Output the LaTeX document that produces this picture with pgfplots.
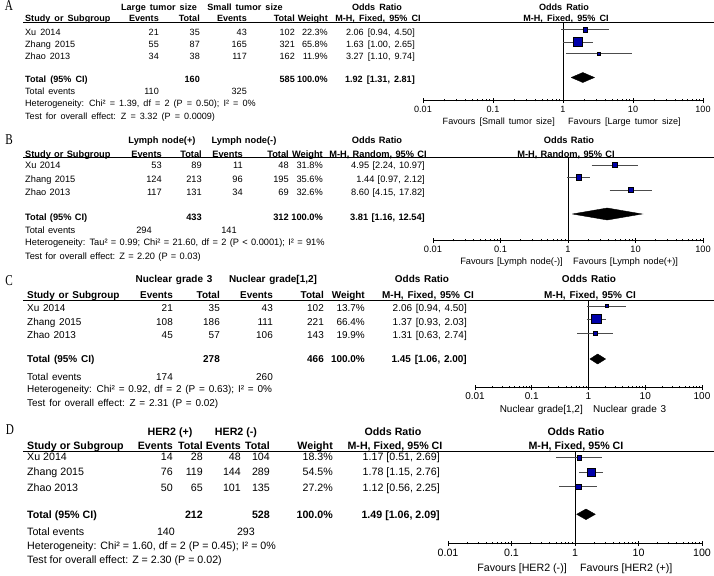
\documentclass[border=0pt]{standalone}
\usepackage{pgfplots}
\pgfplotsset{compat=1.18}
\usepackage{fontspec}
\setmainfont{Liberation Sans}
\newfontfamily\letterfont{Liberation Serif}
\definecolor{sqblue}{RGB}{0,0,170}

% panel fonts; the source image has wide word spaces in A-C
\newcommand\fsA{\fontsize{9.1}{10}\selectfont\spaceskip=4.1bp\relax}
\newcommand\fsB{\fontsize{9.3}{10}\selectfont\spaceskip=3.3bp\relax}
\newcommand\fsC{\fontsize{10}{11}\selectfont\spaceskip=3.8bp\relax}
\newcommand\fsD{\fontsize{10.7}{12}\selectfont}

% one table row, column edges come from \xN ... \xOR of the panel
\newcommand\row[8]{%
  \node[L] at (\xN,#1) {#2};
  \node[R] at (\xEa,#1) {#3};
  \node[R] at (\xTa,#1) {#4};
  \node[R] at (\xEb,#1) {#5};
  \node[R] at (\xTb,#1) {#6};
  \node[R] at (\xW,#1) {#7};
  \node[R] at (\xOR,#1) {#8};}

\begin{document}
\begin{tikzpicture}[
  L/.style={anchor=mid west, inner sep=0pt},
  R/.style={anchor=mid east, inner sep=0pt},
  M/.style={anchor=mid, inner sep=0pt},
  lett/.style={anchor=mid, inner sep=0pt, font=\letterfont\fontsize{15}{15}\selectfont, xscale=0.75, transform shape},
  wh/.style={black!70, line width=0.8bp},
  sq/.style={draw=none, fill=sqblue},
  dia/.style={fill=black, draw=black},
  vline/.style={black, line width=0.75bp}]
\path[use as bounding box] (0,0) rectangle (714bp,-576bp);

%%%%%%%%%%%%%%%% A
\begin{scope}[x=1bp,y=-1bp,font=\fsA]
\def\xN{25}\def\xEa{159}\def\xTa{200}\def\xEb{247}\def\xTb{295}\def\xW{328}\def\xOR{415}
\node[lett] at (9,8) {A};
\node[M] at (159,7.5) {\textbf{Large tumor size}};
\node[M] at (245,7.5) {\textbf{Small tumor size}};
\node[M] at (377,7.5) {\textbf{Odds Ratio}};
\node[M] at (564,7.5) {\textbf{Odds Ratio}};
\row{18.5}{\textbf{Study or Subgroup}}{\textbf{Events}}{\textbf{Total}}{\textbf{Events}}{\textbf{Total}}{\textbf{Weight}}{}
\node[M] at (378,18.5) {\textbf{M-H, Fixed, 95\% CI}};
\node[M] at (566,18.5) {\textbf{M-H, Fixed, 95\% CI}};
\draw[line width=0.8bp] (23,22.7) -- (714,22.7);
\row{32.5}{Xu 2014}{21}{35}{43}{102}{22.3\%}{2.06 [0.94, 4.50]}
\row{45}{Zhang 2015}{55}{87}{165}{321}{65.8\%}{1.63 [1.00, 2.65]}
\row{56.5}{Zhao 2013}{34}{38}{117}{162}{11.9\%}{3.27 [1.10, 9.74]}
\row{79.5}{\textbf{Total (95\% CI)}}{}{\textbf{160}}{}{\textbf{585}}{\textbf{100.0\%}}{\textbf{1.92 [1.31, 2.81]}}
\row{91.7}{Total events}{110}{}{325}{}{}{}
\node[L] at (25,104) {Heterogeneity: Chi² = 1.39, df = 2 (P = 0.50); I² = 0\%};
\node[L] at (25,117) {Test for overall effect: Z = 3.32 (P = 0.0009)};
\node[R] at (555,122) {Favours [Small tumor size]};
\node[L] at (568,122) {Favours [Large tumor size]};
\end{scope}
\begin{axis}[at={(423bp,-100bp)}, anchor=south west, scale only axis,
  width=280bp, height=77bp, clip=false,
  xmode=log, xmin=0.01, xmax=100, ymin=-100, ymax=-23,
  axis x line*=bottom, axis y line=none,
  xtick={0.01,0.1,1,10,100}, xticklabels={0.01,0.1,1,10,100},
  minor xtick={}, tick align=center, major tick length=5bp,
  axis line style={line width=0.75bp}, tick style={line width=0.75bp, black},
  ticklabel style={font=\fsA}]
\addplot[vline] coordinates {(1,-100) (1,-23)};
\addplot[wh] coordinates {(0.94,-29.5) (4.50,-29.5)};
\addplot[wh] coordinates {(1.00,-42) (2.65,-42)};
\addplot[wh] coordinates {(1.10,-53.5) (9.74,-53.5)};
\addplot[only marks, mark=square*, mark options={sq}, mark size=2.2bp] coordinates {(2.06,-29.5)};
\addplot[only marks, mark=square*, mark options={sq}, mark size=4.6bp] coordinates {(1.63,-42)};
\addplot[only marks, mark=square*, mark options={sq}, mark size=1.4bp] coordinates {(3.27,-53.5)};
\addplot[dia] coordinates {(1.31,-77.5) (1.92,-72.5) (2.81,-77.5) (1.92,-82.5) (1.31,-77.5)};
\end{axis}

%%%%%%%%%%%%%%%% B
\begin{scope}[x=1bp,y=-1bp,font=\fsB]
\def\xN{25}\def\xEa{162}\def\xTa{202}\def\xEb{243}\def\xTb{289}\def\xW{323}\def\xOR{425}
\node[lett] at (9,142) {B};
\node[M] at (162,141) {\textbf{Lymph node(+)}};
\node[M] at (244,141) {\textbf{Lymph node(-)}};
\node[M] at (377,141) {\textbf{Odds Ratio}};
\node[M] at (569,141) {\textbf{Odds Ratio}};
\row{154.5}{\textbf{Study or Subgroup}}{\textbf{Events}}{\textbf{Total}}{\textbf{Events}}{\textbf{Total}}{\textbf{Weight}}{}
\node[M] at (378,154.5) {\textbf{M-H, Random, 95\% CI}};
\node[M] at (566,154.5) {\textbf{M-H, Random, 95\% CI}};
\draw[line width=0.8bp] (23,157.5) -- (714,157.5);
\row{166}{Xu 2014}{53}{89}{11}{48}{31.8\%}{4.95 [2.24, 10.97]}
\row{180}{Zhang 2015}{124}{213}{96}{195}{35.6\%}{1.44 [0.97, 2.12]}
\row{192.5}{Zhao 2013}{117}{131}{34}{69}{32.6\%}{8.60 [4.15, 17.82]}
\row{217.5}{\textbf{Total (95\% CI)}}{}{\textbf{433}}{}{\textbf{312}}{\textbf{100.0\%}}{\textbf{3.81 [1.16, 12.54]}}
\node[L] at (25,231) {Total events};
\node[R] at (152,231) {294};
\node[R] at (237,231) {141};
\node[L] at (25,242.5) {Heterogeneity: Tau² = 0.99; Chi² = 21.60, df = 2 (P < 0.0001); I² = 91\%};
\node[L] at (25,256.5) {Test for overall effect: Z = 2.20 (P = 0.03)};
\node[R] at (563,261.5) {Favours [Lymph node(-)]};
\node[L] at (573,261.5) {Favours [Lymph node(+)]};
\end{scope}
\begin{axis}[at={(433bp,-240bp)}, anchor=south west, scale only axis,
  width=270bp, height=83bp, clip=false,
  xmode=log, xmin=0.01, xmax=100, ymin=-240, ymax=-157,
  axis x line*=bottom, axis y line=none,
  xtick={0.01,0.1,1,10,100}, xticklabels={0.01,0.1,1,10,100},
  minor xtick={}, tick align=center, major tick length=5bp,
  axis line style={line width=0.75bp}, tick style={line width=0.75bp, black},
  ticklabel style={font=\fsB}]
\addplot[vline] coordinates {(1,-240) (1,-157)};
\addplot[wh] coordinates {(2.24,-165) (10.97,-165)};
\addplot[wh] coordinates {(0.97,-177) (2.12,-177)};
\addplot[wh] coordinates {(4.15,-190) (17.82,-190)};
\addplot[only marks, mark=square*, mark options={sq}, mark size=2.6bp] coordinates {(4.95,-165)};
\addplot[only marks, mark=square*, mark options={sq}, mark size=2.7bp] coordinates {(1.44,-177)};
\addplot[only marks, mark=square*, mark options={sq}, mark size=2.6bp] coordinates {(8.60,-190)};
\addplot[dia] coordinates {(1.16,-214) (3.81,-208) (12.54,-214) (3.81,-220) (1.16,-214)};
\end{axis}

%%%%%%%%%%%%%%%% C
\begin{scope}[x=1bp,y=-1bp,font=\fsC]
\def\xN{27}\def\xEa{173}\def\xTa{220}\def\xEb{273}\def\xTb{324}\def\xW{365}\def\xOR{467}
\node[lett] at (9,283) {C};
\node[M] at (174,280) {\textbf{Nuclear grade 3}};
\node[M] at (273,280) {\textbf{Nuclear grade[1,2]}};
\node[M] at (422,280) {\textbf{Odds Ratio}};
\node[M] at (589,280) {\textbf{Odds Ratio}};
\row{296}{\textbf{Study or Subgroup}}{\textbf{Events}}{\textbf{Total}}{\textbf{Events}}{\textbf{Total}}{\textbf{Weight}}{}
\node[M] at (428,296) {\textbf{M-H, Fixed, 95\% CI}};
\node[M] at (590,296) {\textbf{M-H, Fixed, 95\% CI}};
\draw[line width=0.8bp] (23,300) -- (714,300);
\row{309}{Xu 2014}{21}{35}{43}{102}{13.7\%}{2.06 [0.94, 4.50]}
\row{322.5}{Zhang 2015}{108}{186}{111}{221}{66.4\%}{1.37 [0.93, 2.03]}
\row{336}{Zhao 2013}{45}{57}{106}{143}{19.9\%}{1.31 [0.63, 2.74]}
\row{360}{\textbf{Total (95\% CI)}}{}{\textbf{278}}{}{\textbf{466}}{\textbf{100.0\%}}{\textbf{1.45 [1.06, 2.00]}}
\row{377.5}{Total events}{174}{}{260}{}{}{}
\node[L] at (27,390) {Heterogeneity: Chi² = 0.92, df = 2 (P = 0.63); I² = 0\%};
\node[L] at (27,404) {Test for overall effect: Z = 2.31 (P = 0.02)};
\node[R] at (583,410) {Nuclear grade[1,2]};
\node[L] at (593,410) {Nuclear grade 3};
\end{scope}
\begin{axis}[at={(475bp,-387bp)}, anchor=south west, scale only axis,
  width=227bp, height=87bp, clip=false,
  xmode=log, xmin=0.01, xmax=100, ymin=-387, ymax=-300,
  axis x line*=bottom, axis y line=none,
  xtick={0.01,0.1,1,10,100}, xticklabels={0.01,0.1,1,10,100},
  minor xtick={}, tick align=center, major tick length=5bp,
  axis line style={line width=0.75bp}, tick style={line width=0.75bp, black},
  ticklabel style={font=\fsC}]
\addplot[vline] coordinates {(1,-387) (1,-300)};
\addplot[wh] coordinates {(0.94,-306) (4.50,-306)};
\addplot[wh] coordinates {(0.93,-319) (2.03,-319)};
\addplot[wh] coordinates {(0.63,-333) (2.74,-333)};
\addplot[only marks, mark=square*, mark options={sq}, mark size=1.6bp] coordinates {(2.06,-306)};
\addplot[only marks, mark=square*, mark options={sq}, mark size=4.6bp] coordinates {(1.37,-319)};
\addplot[only marks, mark=square*, mark options={sq}, mark size=2.0bp] coordinates {(1.31,-333)};
\addplot[dia] coordinates {(1.06,-359) (1.45,-354) (2.00,-359) (1.45,-364) (1.06,-359)};
\end{axis}

%%%%%%%%%%%%%%%% D
\begin{scope}[x=1bp,y=-1bp,font=\fsD]
\def\xN{27}\def\xEa{173}\def\xTa{203}\def\xEb{241}\def\xTb{270}\def\xW{333}\def\xOR{440}
\node[lett] at (10,432) {D};
\node[M] at (170,432.5) {\textbf{HER2 (+)}};
\node[M] at (236,432.5) {\textbf{HER2 (-)}};
\node[M] at (393,432.5) {\textbf{Odds Ratio}};
\node[M] at (576,432.5) {\textbf{Odds Ratio}};
\row{446.5}{\textbf{Study or Subgroup}}{\textbf{Events}}{\textbf{Total}}{\textbf{Events}}{\textbf{Total}}{\textbf{Weight}}{}
\node[M] at (395,446.5) {\textbf{M-H, Fixed, 95\% CI}};
\node[M] at (576,446.5) {\textbf{M-H, Fixed, 95\% CI}};
\draw[line width=0.8bp] (23,451) -- (714,451);
\row{457.5}{Xu 2014}{14}{28}{48}{104}{18.3\%}{1.17 [0.51, 2.69]}
\row{473}{Zhang 2015}{76}{119}{144}{289}{54.5\%}{1.78 [1.15, 2.76]}
\row{489}{Zhao 2013}{50}{65}{101}{135}{27.2\%}{1.12 [0.56, 2.25]}
\row{516}{\textbf{Total (95\% CI)}}{}{\textbf{212}}{}{\textbf{528}}{\textbf{100.0\%}}{\textbf{1.49 [1.06, 2.09]}}
\node[L] at (27,532.5) {Total events};
\node[R] at (175,532.5) {140};
\node[R] at (255,532.5) {293};
\node[L] at (27,547) {Heterogeneity: Chi² = 1.60, df = 2 (P = 0.45); I² = 0\%};
\node[L] at (27,561) {Test for overall effect: Z = 2.30 (P = 0.02)};
\node[R] at (567,569) {Favours [HER2 (-)]};
\node[L] at (580,569) {Favours [HER2 (+)]};
\end{scope}
\begin{axis}[at={(448bp,-543bp)}, anchor=south west, scale only axis,
  width=254bp, height=92bp, clip=false,
  xmode=log, xmin=0.01, xmax=100, ymin=-543, ymax=-451,
  axis x line*=bottom, axis y line=none,
  xtick={0.01,0.1,1,10,100}, xticklabels={0.01,0.1,1,10,100},
  minor xtick={}, tick align=center, major tick length=5bp,
  axis line style={line width=0.75bp}, tick style={line width=0.75bp, black},
  ticklabel style={font=\fsD}]
\addplot[vline] coordinates {(1,-543) (1,-451)};
\addplot[wh] coordinates {(0.51,-457.7) (2.69,-457.7)};
\addplot[wh] coordinates {(1.15,-472.3) (2.76,-472.3)};
\addplot[wh] coordinates {(0.56,-486.7) (2.25,-486.7)};
\addplot[only marks, mark=square*, mark options={sq}, mark size=2.2bp] coordinates {(1.17,-457.7)};
\addplot[only marks, mark=square*, mark options={sq}, mark size=4.2bp] coordinates {(1.78,-472.3)};
\addplot[only marks, mark=square*, mark options={sq}, mark size=2.6bp] coordinates {(1.12,-486.7)};
\addplot[dia] coordinates {(1.06,-514.3) (1.49,-509) (2.09,-514.3) (1.49,-519.6) (1.06,-514.3)};
\end{axis}
\end{tikzpicture}
\end{document}
